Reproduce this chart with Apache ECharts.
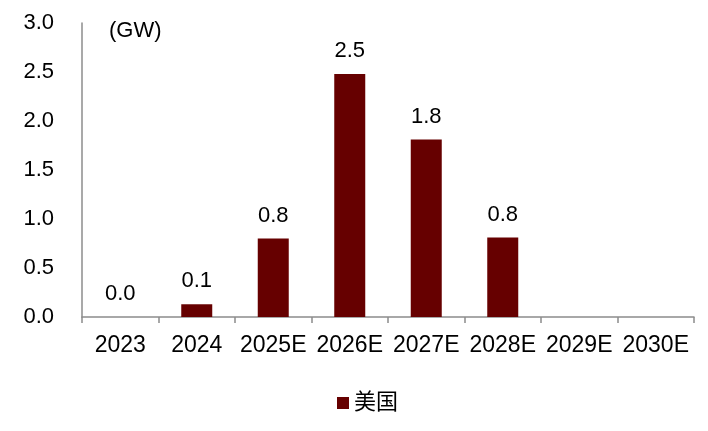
<!DOCTYPE html>
<html>
<head>
<meta charset="utf-8">
<script src="https://cdn.jsdelivr.net/npm/echarts@6/dist/echarts.min.js"></script>
<style>
html,body{margin:0;padding:0;background:#fff;}
#c{width:708px;height:431px;}
</style>
</head>
<body>
<div id="c"></div>
<script>
const categories = ['2023','2024','2025E','2026E','2027E','2028E','2029E','2030E'];
const usValues = [0, 0.13, 0.8, 2.48, 1.81, 0.81, null, null];
const seriesName = '美国';
const unitLabel = '(GW)';
const yMin = 0, yMax = 3, yInterval = 0.5;

const chart = echarts.init(document.getElementById('c'));
const font = 'Arial, "Liberation Sans", "Noto Sans CJK SC", sans-serif';
chart.setOption({
  animation: false,
  backgroundColor: '#fff',
  textStyle: { fontFamily: font, color: '#000' },
  title: {
    text: unitLabel, left: 104, top: 15,
    textStyle: { fontFamily: font, fontSize: 22, fontWeight: 'normal', color: '#000' }
  },
  legend: {
    data: [seriesName], left: 332, top: 387,
    itemWidth: 12, itemHeight: 12, itemGap: 6,
    icon: 'rect',
    textStyle: { fontFamily: font, fontSize: 22, color: '#000' }
  },
  grid: { left: 82, right: 14, top: 23, bottom: 114, containLabel: false },
  xAxis: {
    type: 'category', data: categories, boundaryGap: true,
    axisLine: { show: true, lineStyle: { color: '#8c8c8c', width: 1.5 } },
    axisTick: { show: true, interval: 0, length: 6, lineStyle: { color: '#8c8c8c', width: 1.5 } },
    axisLabel: { interval: 0, margin: 17, fontSize: 23, color: '#000', fontFamily: font }
  },
  yAxis: {
    type: 'value', min: yMin, max: yMax, interval: yInterval,
    axisLine: { show: true, lineStyle: { color: '#8c8c8c', width: 1.5 } },
    axisTick: { show: false },
    splitLine: { show: false },
    axisLabel: { margin: 28, fontSize: 22, color: '#000', fontFamily: font,
      formatter: v => v.toFixed(1) }
  },
  series: [{
    name: seriesName, type: 'bar', data: usValues, barWidth: 31,
    itemStyle: { color: '#660000' },
    label: { show: true, position: 'top', distance: 12, fontSize: 22, color: '#000',
      fontFamily: font, formatter: p => p.value == null ? '' : Number(p.value).toFixed(1) }
  }]
});
</script>
</body>
</html>
